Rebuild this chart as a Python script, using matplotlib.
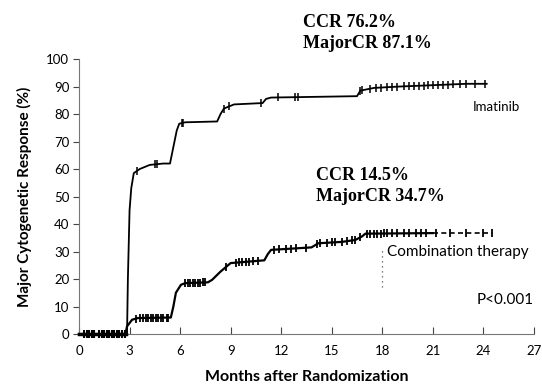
import numpy as np
import matplotlib
matplotlib.use("Agg")
import matplotlib.pyplot as plt

# ---------------- data ----------------
ima_t = [0, 2.85, 2.9, 3.0, 3.1, 3.25, 3.6, 4.2, 5.0, 5.4, 5.6, 5.8, 5.95, 6.3, 8.2, 8.4, 8.6, 9.2,
         10.9, 11.1, 11.4, 16.5, 16.7, 17.5, 19.0, 21.0, 23.0, 24.2]
ima_v = [0, 0, 20, 45, 53, 58.5, 60, 61.5, 62, 62, 68, 74, 76.5, 77, 77.3, 80, 82, 83.5,
         84, 85.5, 86, 86.5, 88.5, 89.5, 90, 90.5, 91, 91]
ima_cens = [3.45, 4.5, 4.6, 6.1, 6.2, 8.6, 8.9, 10.8, 11.8, 12.8, 13.0, 16.7, 16.8, 17.3, 17.6,
            17.9, 18.3, 18.6, 18.9, 19.3, 19.6, 19.9, 20.2, 20.5, 20.7, 21.0, 21.3, 21.6,
            21.9, 22.2, 22.6, 23.0, 23.5, 24.1]

comb_t = [0, 2.75, 2.85, 3.15, 3.5, 5.45, 5.6, 5.75, 6.05, 6.3, 7.65, 7.9, 8.4, 9.0, 11.0, 11.2,
          11.4, 13.8, 14.2, 15.6, 16.4, 16.8, 17.0, 21.0]
comb_v = [0, 0, 2.8, 5.2, 5.8, 6, 10, 15, 17.9, 18.5, 18.8, 19.7, 22.7, 25.8, 26.8, 29,
          30.6, 31.5, 33, 33.5, 34.2, 35.5, 36.5, 36.7]
comb_dash_t = [21.0, 24.5]
comb_dash_v = [36.7, 36.7]
comb_cens = [3.4, 3.6, 3.8, 3.95, 4.1, 4.25, 4.4, 4.55, 4.7, 4.85, 5.0, 5.2, 5.3,
             6.3, 6.45, 6.6, 6.75, 6.9, 7.05, 7.2, 7.35, 7.5,
             8.7, 9.3, 9.5, 9.7, 9.9, 10.1, 10.3, 10.6,
             11.6, 11.9, 12.3, 12.6, 12.9, 13.5, 14.1, 14.3, 14.7, 15.0, 15.2, 15.6, 15.9,
             16.2, 16.4, 16.7, 17.1, 17.3, 17.5, 17.7, 17.9, 18.1, 18.3, 18.6, 18.9, 19.3,
             19.6, 20.0, 20.3, 20.6, 21.2, 22.0, 23.0, 24.0, 24.5]
zero_cens = [0.3, 0.45, 0.6, 0.75, 0.9, 1.2, 1.35, 1.5, 1.65, 1.8, 1.95, 2.1, 2.25, 2.4, 2.55, 2.7]

x_ticks = [0, 3, 6, 9, 12, 15, 18, 21, 24, 27]
y_ticks = [0, 10, 20, 30, 40, 50, 60, 70, 80, 90, 100]

pointer_x = 18
pointer_y = [17, 31]

# ---------------- figure ----------------
SANS = ["Lato", "DejaVu Sans"]
SERIF = ["Liberation Serif", "DejaVu Serif"]
plt.rcParams["font.family"] = SANS

W, H = 542, 386
fig = plt.figure(figsize=(W / 100, H / 100), dpi=100)
ax = fig.add_axes([0.1458, 0.1347, 0.985 - 0.1458, 0.847 - 0.1347])

ax.plot(ima_t, ima_v, color="black", lw=1.3, clip_on=False, zorder=3)
ax.plot(comb_t, comb_v, color="black", lw=1.6, clip_on=False, zorder=3)
ax.plot(comb_dash_t, comb_dash_v, color="black", lw=1.2, ls=(0, (3, 2)), clip_on=False, zorder=3)

ax.plot(ima_cens, np.interp(ima_cens, ima_t, ima_v), ls="none", marker="|", ms=6, mew=1.1,
        color="black", clip_on=False, zorder=4)
ax.plot(comb_cens, np.interp(comb_cens, comb_t + comb_dash_t[1:], comb_v + comb_dash_v[1:]),
        ls="none", marker="|", ms=6, mew=1.3, color="black", clip_on=False, zorder=4)
ax.plot(zero_cens, np.zeros(len(zero_cens)), ls="none", marker="|", ms=6, mew=1.5,
        color="black", clip_on=False, zorder=4)
ax.plot([0, 2.8], [0, 0], color="black", lw=2.5, clip_on=False, zorder=3)

ax.plot([pointer_x, pointer_x], pointer_y, color="#555555", lw=0.9, ls=(0, (1, 3)))

ax.set_xlim(0, 27)
ax.set_ylim(0, 100)
ax.set_xticks(x_ticks)
ax.set_yticks(y_ticks)
for s in ["top", "right"]:
    ax.spines[s].set_visible(False)
for s in ["left", "bottom"]:
    ax.spines[s].set_color("#777777")
    ax.spines[s].set_linewidth(0.8)
ax.tick_params(axis="x", direction="in", length=5, width=0.8, color="#444444", pad=8, labelsize=9.5)
ax.tick_params(axis="y", direction="out", length=4, width=0.8, color="#444444", pad=3, labelsize=9.5)

ax.set_xlabel("Months after Randomization", fontsize=11.5, fontweight="bold", labelpad=9)
ax.set_ylabel("Major Cytogenetic Response (%)", fontsize=11, fontweight="bold", labelpad=10)

fig.text(303 / W, 1 - 33 / H, "CCR 76.2%\nMajorCR 87.1%", fontsize=13, fontweight="bold",
         family=SERIF, va="center", ha="left", linespacing=1.25)
fig.text(316 / W, 1 - 186 / H, "CCR 14.5%\nMajorCR 34.7%", fontsize=13, fontweight="bold",
         family=SERIF, va="center", ha="left", linespacing=1.25)

ax.text(23.4, 82.5, "Imatinib", fontsize=9.5, ha="left", va="center")
ax.text(18.3, 29.8, "Combination therapy", fontsize=11, ha="left", va="center")
ax.text(27, 12.4, "P<0.001", fontsize=11, ha="right", va="center")

fig.savefig("out.png", dpi=100)
